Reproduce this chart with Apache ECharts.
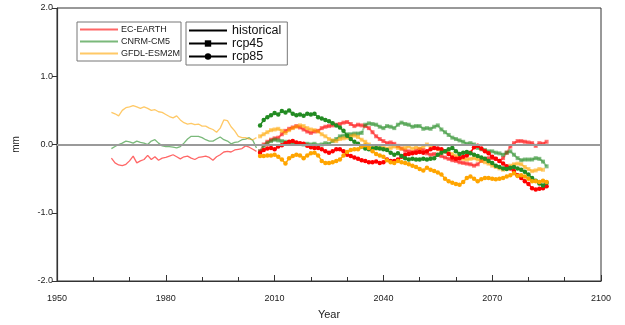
<!DOCTYPE html>
<html>
<head>
<meta charset="utf-8">
<script src="https://cdn.jsdelivr.net/npm/echarts@6/dist/echarts.min.js"></script>
<style>html,body{margin:0;padding:0;background:#fff}#c{width:625px;height:325px}</style>
</head>
<body>
<div id="c"></div>
<script>
// ---- data ----
const models = ['EC-EARTH', 'CNRM-CM5', 'GFDL-ESM2M'];
const histStart = 1965;
const rcpStart = 2006;
const yTicks = ['-2.0', '-1.0', '0.0', '1.0', '2.0'];

const histEC = [-0.20,-0.27,-0.30,-0.31,-0.29,-0.24,-0.17,-0.27,-0.24,-0.22,-0.16,-0.22,-0.18,-0.23,-0.20,-0.19,-0.17,-0.15,-0.18,-0.21,-0.18,-0.17,-0.20,-0.22,-0.19,-0.18,-0.17,-0.19,-0.23,-0.18,-0.15,-0.11,-0.10,-0.11,-0.08,-0.07,-0.06,-0.02,-0.04,-0.07,-0.10];
const histCNRM = [-0.06,-0.03,0.00,0.02,0.05,0.04,0.02,0.05,0.03,0.02,0.00,0.05,0.07,0.02,-0.02,-0.03,-0.03,-0.04,-0.05,-0.03,0.02,0.08,0.12,0.12,0.12,0.10,0.07,0.05,0.05,0.08,0.11,0.07,0.05,0.01,0.03,0.04,0.07,0.08,0.10,0.06,-0.05];
const histGFDL = [0.47,0.45,0.42,0.50,0.54,0.55,0.57,0.55,0.53,0.55,0.53,0.50,0.51,0.48,0.47,0.44,0.41,0.39,0.42,0.36,0.32,0.30,0.31,0.29,0.30,0.27,0.27,0.24,0.22,0.18,0.24,0.36,0.35,0.26,0.20,0.12,0.10,0.10,0.08,0.07,0.10];

const rcp45EC = [-0.10,0.00,0.04,0.07,0.09,0.10,0.15,0.20,0.23,0.25,0.27,0.25,0.22,0.19,0.17,0.19,0.20,0.24,0.26,0.27,0.28,0.29,0.30,0.32,0.33,0.30,0.27,0.29,0.28,0.27,0.24,0.18,0.12,0.08,0.05,0.02,0.03,0.01,-0.02,-0.06,-0.09,-0.10,-0.11,-0.09,-0.07,-0.08,-0.13,-0.15,-0.14,-0.15,-0.17,-0.19,-0.21,-0.23,-0.24,-0.26,-0.27,-0.28,-0.29,-0.31,-0.29,-0.24,-0.21,-0.20,-0.20,-0.21,-0.24,-0.20,-0.12,-0.03,0.02,0.05,0.05,0.04,0.03,0.02,-0.02,0.02,0.01,0.04];
const rcp85EC = [-0.12,-0.08,-0.06,-0.05,-0.07,-0.03,-0.01,0.02,0.04,0.05,0.03,0.02,0.01,-0.02,-0.04,-0.05,-0.05,-0.07,-0.10,-0.12,-0.10,-0.07,-0.07,-0.10,-0.15,-0.17,-0.19,-0.21,-0.23,-0.24,-0.26,-0.26,-0.25,-0.27,-0.26,-0.22,-0.24,-0.24,-0.22,-0.18,-0.15,-0.14,-0.13,-0.12,-0.11,-0.12,-0.10,-0.07,-0.05,-0.06,-0.07,-0.10,-0.14,-0.19,-0.21,-0.20,-0.18,-0.16,-0.12,-0.04,-0.02,-0.06,-0.10,-0.13,-0.18,-0.21,-0.24,-0.28,-0.32,-0.35,-0.39,-0.45,-0.49,-0.54,-0.58,-0.64,-0.66,-0.65,-0.64,-0.61];
const rcp45CNRM = [-0.10,-0.02,0.02,0.05,0.07,0.06,0.05,0.04,0.03,0.02,0.02,0.01,0.00,0.01,0.00,0.01,-0.01,0.00,0.02,0.01,0.05,0.08,0.12,0.13,0.15,0.15,0.16,0.16,0.17,0.29,0.31,0.30,0.29,0.26,0.24,0.27,0.26,0.24,0.29,0.32,0.30,0.29,0.26,0.27,0.27,0.23,0.24,0.23,0.26,0.28,0.22,0.18,0.14,0.10,0.08,0.06,0.04,0.01,0.02,0.00,-0.05,-0.07,-0.08,-0.10,-0.10,-0.12,-0.13,-0.15,-0.12,-0.10,-0.15,-0.20,-0.23,-0.22,-0.22,-0.22,-0.20,-0.21,-0.25,-0.32];
const rcp85CNRM = [0.28,0.36,0.40,0.43,0.46,0.44,0.49,0.47,0.50,0.45,0.43,0.44,0.42,0.45,0.44,0.45,0.40,0.38,0.36,0.34,0.31,0.28,0.25,0.20,0.13,0.08,0.04,0.01,-0.03,-0.06,-0.07,-0.06,-0.05,-0.06,-0.07,-0.08,-0.12,-0.15,-0.13,-0.17,-0.20,-0.22,-0.21,-0.22,-0.22,-0.21,-0.22,-0.21,-0.20,-0.15,-0.12,-0.10,-0.07,-0.05,-0.10,-0.14,-0.12,-0.11,-0.13,-0.15,-0.17,-0.19,-0.21,-0.24,-0.27,-0.31,-0.33,-0.35,-0.36,-0.34,-0.33,-0.35,-0.37,-0.40,-0.44,-0.49,-0.53,-0.57,-0.60,-0.56];
const rcp45GFDL = [0.12,0.15,0.18,0.21,0.22,0.23,0.20,0.17,0.21,0.24,0.26,0.28,0.27,0.24,0.22,0.21,0.19,0.15,0.12,0.08,0.06,0.05,0.08,0.09,0.10,0.12,0.13,0.11,0.07,0.04,0.00,-0.03,-0.06,-0.05,-0.04,-0.06,-0.05,-0.03,-0.05,-0.06,-0.05,-0.03,-0.06,-0.04,-0.06,-0.03,0.00,-0.02,-0.05,-0.07,-0.08,-0.10,-0.12,-0.14,-0.17,-0.19,-0.21,-0.22,-0.21,-0.20,-0.22,-0.24,-0.26,-0.28,-0.31,-0.33,-0.35,-0.37,-0.35,-0.31,-0.29,-0.28,-0.29,-0.33,-0.36,-0.39,-0.38,-0.36,-0.37];
const rcp85GFDL = [-0.17,-0.17,-0.16,-0.16,-0.15,-0.18,-0.22,-0.28,-0.20,-0.17,-0.15,-0.16,-0.20,-0.16,-0.13,-0.12,-0.16,-0.24,-0.27,-0.27,-0.26,-0.24,-0.22,-0.16,-0.11,-0.08,-0.07,-0.07,-0.03,-0.01,-0.05,-0.10,-0.14,-0.16,-0.18,-0.23,-0.26,-0.27,-0.24,-0.26,-0.27,-0.29,-0.31,-0.33,-0.36,-0.38,-0.34,-0.37,-0.39,-0.41,-0.44,-0.50,-0.54,-0.56,-0.58,-0.59,-0.55,-0.49,-0.47,-0.50,-0.54,-0.51,-0.49,-0.49,-0.50,-0.51,-0.50,-0.49,-0.47,-0.45,-0.42,-0.46,-0.45,-0.47,-0.50,-0.54,-0.54,-0.55,-0.53,-0.55];

// ---- chart ----
const FONT = 'Liberation Sans, Arial, Helvetica, sans-serif';
const base = {
  'EC-EARTH': [255, 0, 0],
  'CNRM-CM5': [34, 139, 34],
  'GFDL-ESM2M': [255, 165, 0]
};
const rgba = (c, a) => `rgba(${c[0]},${c[1]},${c[2]},${a})`;
const pairs = (start, arr) => arr.map((v, i) => [start + i, v]);

const hist = { 'EC-EARTH': histEC, 'CNRM-CM5': histCNRM, 'GFDL-ESM2M': histGFDL };
const r45 = { 'EC-EARTH': rcp45EC, 'CNRM-CM5': rcp45CNRM, 'GFDL-ESM2M': rcp45GFDL };
const r85 = { 'EC-EARTH': rcp85EC, 'CNRM-CM5': rcp85CNRM, 'GFDL-ESM2M': rcp85GFDL };

const series = [];
series.push({
  name: 'zero', type: 'line', data: [], silent: true,
  markLine: { silent: true, symbol: 'none', label: { show: false },
    lineStyle: { color: '#9a9a9a', width: 2, type: 'solid' }, data: [{ yAxis: 0 }] }
});
models.forEach(m => {
  series.push({
    name: m, type: 'line', data: pairs(histStart, hist[m]), showSymbol: false, symbol: 'none',
    color: rgba(base[m], 0.6), lineStyle: { width: 1.3, color: rgba(base[m], 0.6) }, z: 2
  });
});
models.forEach(m => {
  series.push({
    name: m + ' rcp45', type: 'line', data: pairs(rcpStart, r45[m]), symbol: 'rect', symbolSize: 4,
    lineStyle: { width: 2, color: rgba(base[m], 0.4) },
    itemStyle: { color: rgba(base[m], 0.55) }, z: 3
  });
});
models.forEach(m => {
  series.push({
    name: m + ' rcp85', type: 'line', data: pairs(rcpStart, r85[m]), symbol: 'circle', symbolSize: 4.5,
    lineStyle: { width: 1.5, color: rgba(base[m], 1) },
    itemStyle: { color: rgba(base[m], 1) }, z: 4
  });
});
series.push({ name: 'historical', type: 'line', data: [], symbol: 'none', color: '#000', lineStyle: { color: '#000', width: 1.3 } });
series.push({ name: 'rcp45', type: 'line', data: [], symbol: 'rect', symbolSize: 7, color: '#000', lineStyle: { color: '#000', width: 1.3 } });
series.push({ name: 'rcp85', type: 'line', data: [], symbol: 'circle', symbolSize: 7, color: '#000', lineStyle: { color: '#000', width: 1.3 } });

const hide = { opacity: 0 };
const option = {
  animation: false,
  backgroundColor: '#fff',
  textStyle: { fontFamily: FONT },
  grid: { left: 57, right: 24, top: 8, bottom: 44, show: true, borderColor: '#333', borderWidth: 1, backgroundColor: 'transparent' },
  xAxis: {
    type: 'value', min: 1950, max: 2100, interval: 30,
    name: 'Year', nameLocation: 'middle', nameGap: 28,
    nameTextStyle: { fontSize: 11, color: '#222', fontFamily: FONT },
    axisLine: { show: true, onZero: false, lineStyle: { color: '#333', width: 1.2 } },
    axisTick: { show: true, inside: true, length: 6, lineStyle: { color: '#333' } },
    minorTick: { show: true, splitNumber: 3, length: 4, lineStyle: { color: '#333' } },
    axisLabel: { fontSize: 9, color: '#222', margin: 13, fontFamily: FONT, formatter: v => String(v) },
    splitLine: { show: false }
  },
  yAxis: {
    type: 'value', min: -2, max: 2, interval: 1,
    name: 'mm', nameLocation: 'middle', nameGap: 36,
    nameTextStyle: { fontSize: 10, color: '#222', fontFamily: FONT },
    axisLine: { show: true, lineStyle: { color: '#333', width: 1.2 } },
    axisTick: { show: true, inside: false, length: 5, lineStyle: { color: '#333' } },
    axisLabel: { fontSize: 9, color: '#222', margin: 4, fontFamily: FONT,
      formatter: v => yTicks[Math.round(v) + 2] },
    splitLine: { show: false }
  },
  legend: [
    {
      data: models.map(m => ({ name: m, itemStyle: hide })), orient: 'vertical', left: 77, top: 22,
      itemWidth: 38, itemHeight: 8, itemGap: 3, padding: [3, 1, 3, 2],
      borderColor: '#777', borderWidth: 1, selectedMode: false,
      textStyle: { fontSize: 9, color: '#222', fontFamily: FONT, padding: [0, 0, 0, -2] }
    },
    {
      data: [{ name: 'historical', itemStyle: hide }, 'rcp45', 'rcp85'], orient: 'vertical', left: 186, top: 22,
      itemWidth: 38, itemHeight: 8, itemGap: 0, padding: [2, 6, 2, 2],
      borderColor: '#777', borderWidth: 1, selectedMode: false,
      textStyle: { fontSize: 12.5, color: '#111', fontFamily: FONT, lineHeight: 11.5, padding: [0, 0, 0, 0] }
    }
  ],
  series: series
};
const chart = echarts.init(document.getElementById('c'), null, { renderer: 'canvas' });
chart.setOption(option);
</script>
</body>
</html>
